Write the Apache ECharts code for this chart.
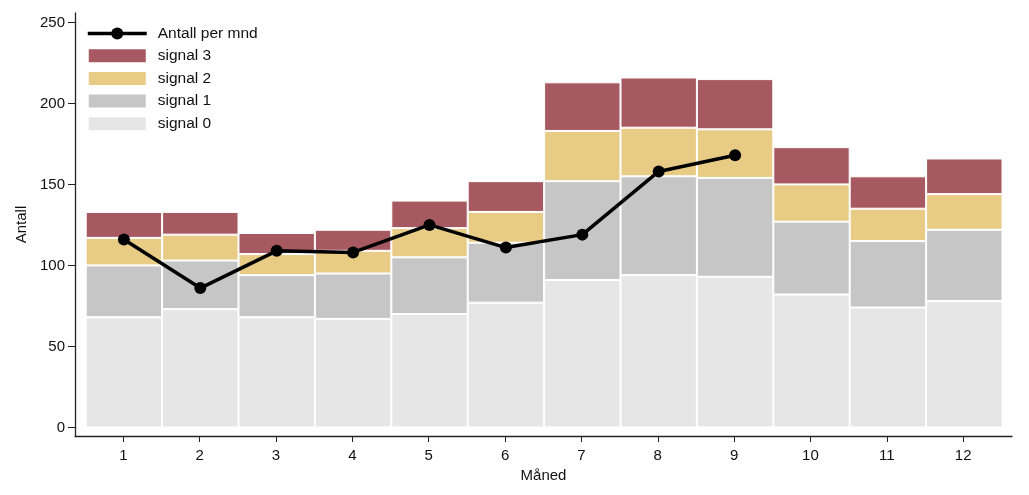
<!DOCTYPE html>
<html>
<head>
<meta charset="utf-8">
<script src="https://cdn.jsdelivr.net/npm/echarts@6/dist/echarts.min.js"></script>
<style>html,body{margin:0;padding:0;background:#fff}#c{width:1029px;height:495px}</style>
</head>
<body>
<div id="c"></div>
<script>
const months = [1,2,3,4,5,6,7,8,9,10,11,12];
const monthLabels = ['1','2','3','4','5','6','7','8','9','10','11','12'];
const signal0 = [68,73,68,67,70,77,91,94,93,82,74,78];
const signal1 = [32,30,26,28,35,37,61,61,61,45,41,44];
const signal2 = [17,16,13,14,18,19,31,30,30,23,20,22];
const signal3 = [16,14,13,13,17,19,30,31,31,23,20,22];
const antallPerMnd = [116,86,109,108,125,111,119,158,168];
const yTicks = [0,50,100,150,200,250];

const font = '"Liberation Sans", Arial, sans-serif';
const yMin = -5.3, yMax = 255.8;
function barSeries(name, vals, color){
  return {
    name, type:'bar', stack:'s', xAxisIndex:1, yAxisIndex:1,
    barCategoryGap:'0%',
    data: vals,
    itemStyle:{color, borderColor:'#ffffff', borderWidth:1},
    emphasis:{disabled:true}
  };
}
const chart = echarts.init(document.getElementById('c'), null, {renderer:'canvas'});
chart.setOption({
  animation:false,
  backgroundColor:'#ffffff',
  textStyle:{fontFamily:font},
  grid:[
    {left:75, right:17, top:13, bottom:59, containLabel:false},
    {left:85.7, right:26.5, top:13, bottom:59, containLabel:false}
  ],
  legend:{
    left:81, top:20.5, orient:'vertical', itemWidth:59, itemHeight:15, itemGap:5.7,
    data:[
      {name:'Antall per mnd', lineStyle:{width:3.5, color:'#000'}, itemStyle:{color:'#000'}},
      {name:'signal 3',icon:'rect'},{name:'signal 2',icon:'rect'},{name:'signal 1',icon:'rect'},{name:'signal 0',icon:'rect'}
    ],
    textStyle:{fontSize:15.5, color:'#111', fontFamily:font, padding:[0,0,0,6]}
  },
  xAxis:[{
    type:'value', gridIndex:0, min:0.367, max:12.64,
    name:'Måned', nameLocation:'middle', nameGap:28,
    nameTextStyle:{fontSize:15, color:'#111', fontFamily:font},
    axisLine:{show:true, onZero:false, lineStyle:{color:'#222', width:1.3}},
    axisTick:{show:true, customValues:months, length:6, lineStyle:{color:'#222'}},
    axisLabel:{customValues:months, fontSize:15, color:'#111', margin:12, fontFamily:font},
    splitLine:{show:false}
  },{
    type:'category', gridIndex:1, data:monthLabels, boundaryGap:true, show:false
  }],
  yAxis:[{
    type:'value', gridIndex:0, min:yMin, max:yMax,
    name:'Antall', nameLocation:'middle', nameGap:35, nameRotate:90,
    nameTextStyle:{fontSize:15, color:'#111', fontFamily:font},
    axisLine:{show:true, onZero:false, lineStyle:{color:'#222', width:1.3}},
    axisTick:{show:true, customValues:yTicks, length:7, lineStyle:{color:'#222'}},
    axisLabel:{customValues:yTicks, fontSize:15, color:'#111', margin:10, fontFamily:font},
    splitLine:{show:false}
  },{
    type:'value', gridIndex:1, min:yMin, max:yMax, show:false, splitLine:{show:false}
  }],
  series:[
    barSeries('signal 0', signal0, '#e6e6e6'),
    barSeries('signal 1', signal1, '#c6c6c6'),
    barSeries('signal 2', signal2, '#e8cc85'),
    barSeries('signal 3', signal3, '#a65960'),
    {
      name:'Antall per mnd', type:'line', z:10, xAxisIndex:1, yAxisIndex:1,
      data: antallPerMnd,
      symbol:'circle', symbolSize:12,
      itemStyle:{color:'#000'}, lineStyle:{color:'#000', width:3.5},
      emphasis:{disabled:true}
    }
  ]
});
</script>
</body>
</html>
